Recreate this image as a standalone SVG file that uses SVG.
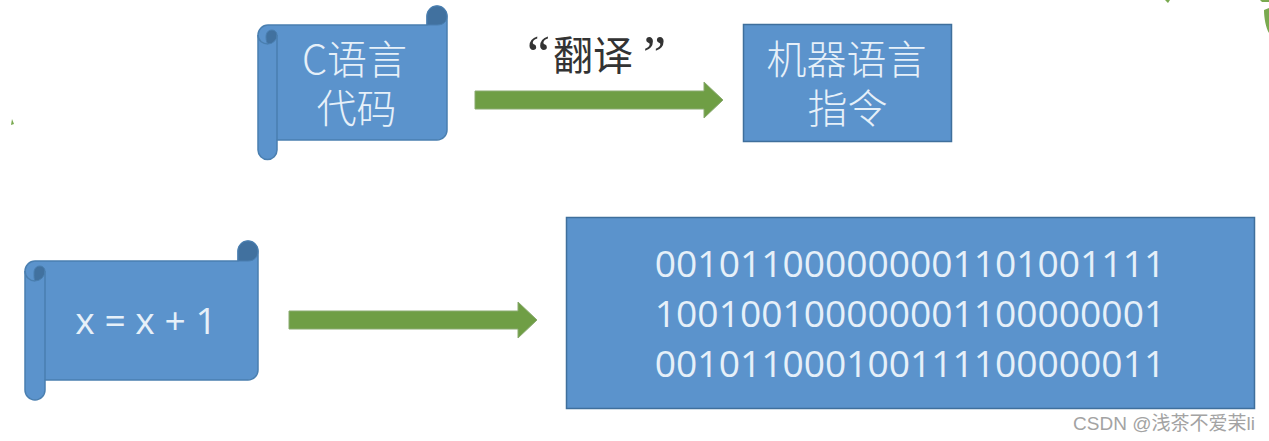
<svg xmlns="http://www.w3.org/2000/svg" width="1269" height="441" viewBox="0 0 1269 441">
<style>
.s{fill:#5b93cc;stroke:#4a7fb0;stroke-width:1.5;stroke-linejoin:round}
.d{fill:#41719f;stroke:#4a7fb0;stroke-width:1}
.b{fill:#5b93cc;stroke:#3f6f9c;stroke-width:1.5}
.a{fill:#6f9e45;stroke:#8aaa70;stroke-width:1}
.g{fill:#79a94f}
text{font-family:"Noto Sans CJK SC","Noto Sans",sans-serif;fill:#e6f0f9;text-anchor:middle}
.t{font-size:40px;font-weight:300}
.m{font-family:"Open Sans","Noto Sans",sans-serif;font-size:37.200px}
.q{font-family:"Liberation Serif",serif;font-size:52px}
</style>
<rect width="1269" height="441" fill="#fff"/>
<path class="g" d="M1165 0H1170L1168 3ZM1260 0H1269V2L1262 2ZM1264 10L1269 8V33C1266 28 1264 18 1264 10ZM12 119L14 124L11 125Z"/>
<g id="scroll-c">
<path class="s" d="M268 25H427V16a10 10 0 0 1 20 0V130a10 10 0 0 1-10 10H277V150a9.500 9.500 0 0 1-19 0V35a10 10 0 0 1 10-10Z"/>
<path class="d" d="M427 25V16a10 10 0 0 1 20 0C447 22 443 25 437 25Z"/>
<path class="d" d="M268 44a9 9 0 0 0 9-9a5 5 0 0 0-5-5c-4 0-6 3-6 7c0 4 1 6 2 7Z"/>
<path d="M258 35c0 6 5 9 10 9M277 35V140" fill="none" stroke="#4a7fb0" stroke-width="1.500"/>
<text class="t"><tspan x="354.500" y="74">C语言</tspan><tspan x="356.500" y="123">代码</tspan></text>
</g>
<g id="label-translate"><text x="527" y="72" font-size="40" style="fill:#333;text-anchor:start"><tspan class="q">“</tspan><tspan x="553" y="70">翻译</tspan><tspan class="q" x="643" y="72">”</tspan></text></g>
<g id="box-machine">
<rect class="b" x="743.500" y="24.500" width="208" height="117"/>
<text class="t"><tspan x="846.500" y="74">机器语言</tspan><tspan x="847.500" y="123">指令</tspan></text>
</g>
<g id="scroll-x">
<path class="s" d="M35 261H238V251a10 10 0 0 1 20 0V370a10 10 0 0 1-10 10H45V390a10 10 0 0 1-20 0V271a10 10 0 0 1 10-10Z"/>
<path class="d" d="M238 261V251a10 10 0 0 1 20 0C258 257 254 261 248 261Z"/>
<path class="d" d="M35 281a10 10 0 0 0 10-10a5 5 0 0 0-5-5c-4 0-6 3-6 7c0 4 0 6 1 8Z"/>
<path d="M25 271c0 6 5 10 10 10M45 271V380" fill="none" stroke="#4a7fb0" stroke-width="1.500"/>
<text class="m" x="146" y="334">x = x + 1</text>
</g>
<g id="box-binary">
<rect class="b" x="566.500" y="217.500" width="688" height="191"/>
<text class="m" x="910" y="277">001011000000001101001111</text>
<text class="m" x="910" y="327">100100100000001100000001</text>
<text class="m" x="910" y="377">001011000100111100000011</text>
</g>
<g id="connectors">
<path class="a" d="M475 91H704V82L723 100L704 118V109H475Z"/>
<path class="a" d="M289 311H518V302L537 320L518 338V329H289Z"/>
</g>
<text x="1164" y="430" font-size="19" style="fill:#a3a3a3;font-family:'Liberation Sans','Noto Sans CJK SC',sans-serif">CSDN @浅茶不爱茉li</text>
</svg>
